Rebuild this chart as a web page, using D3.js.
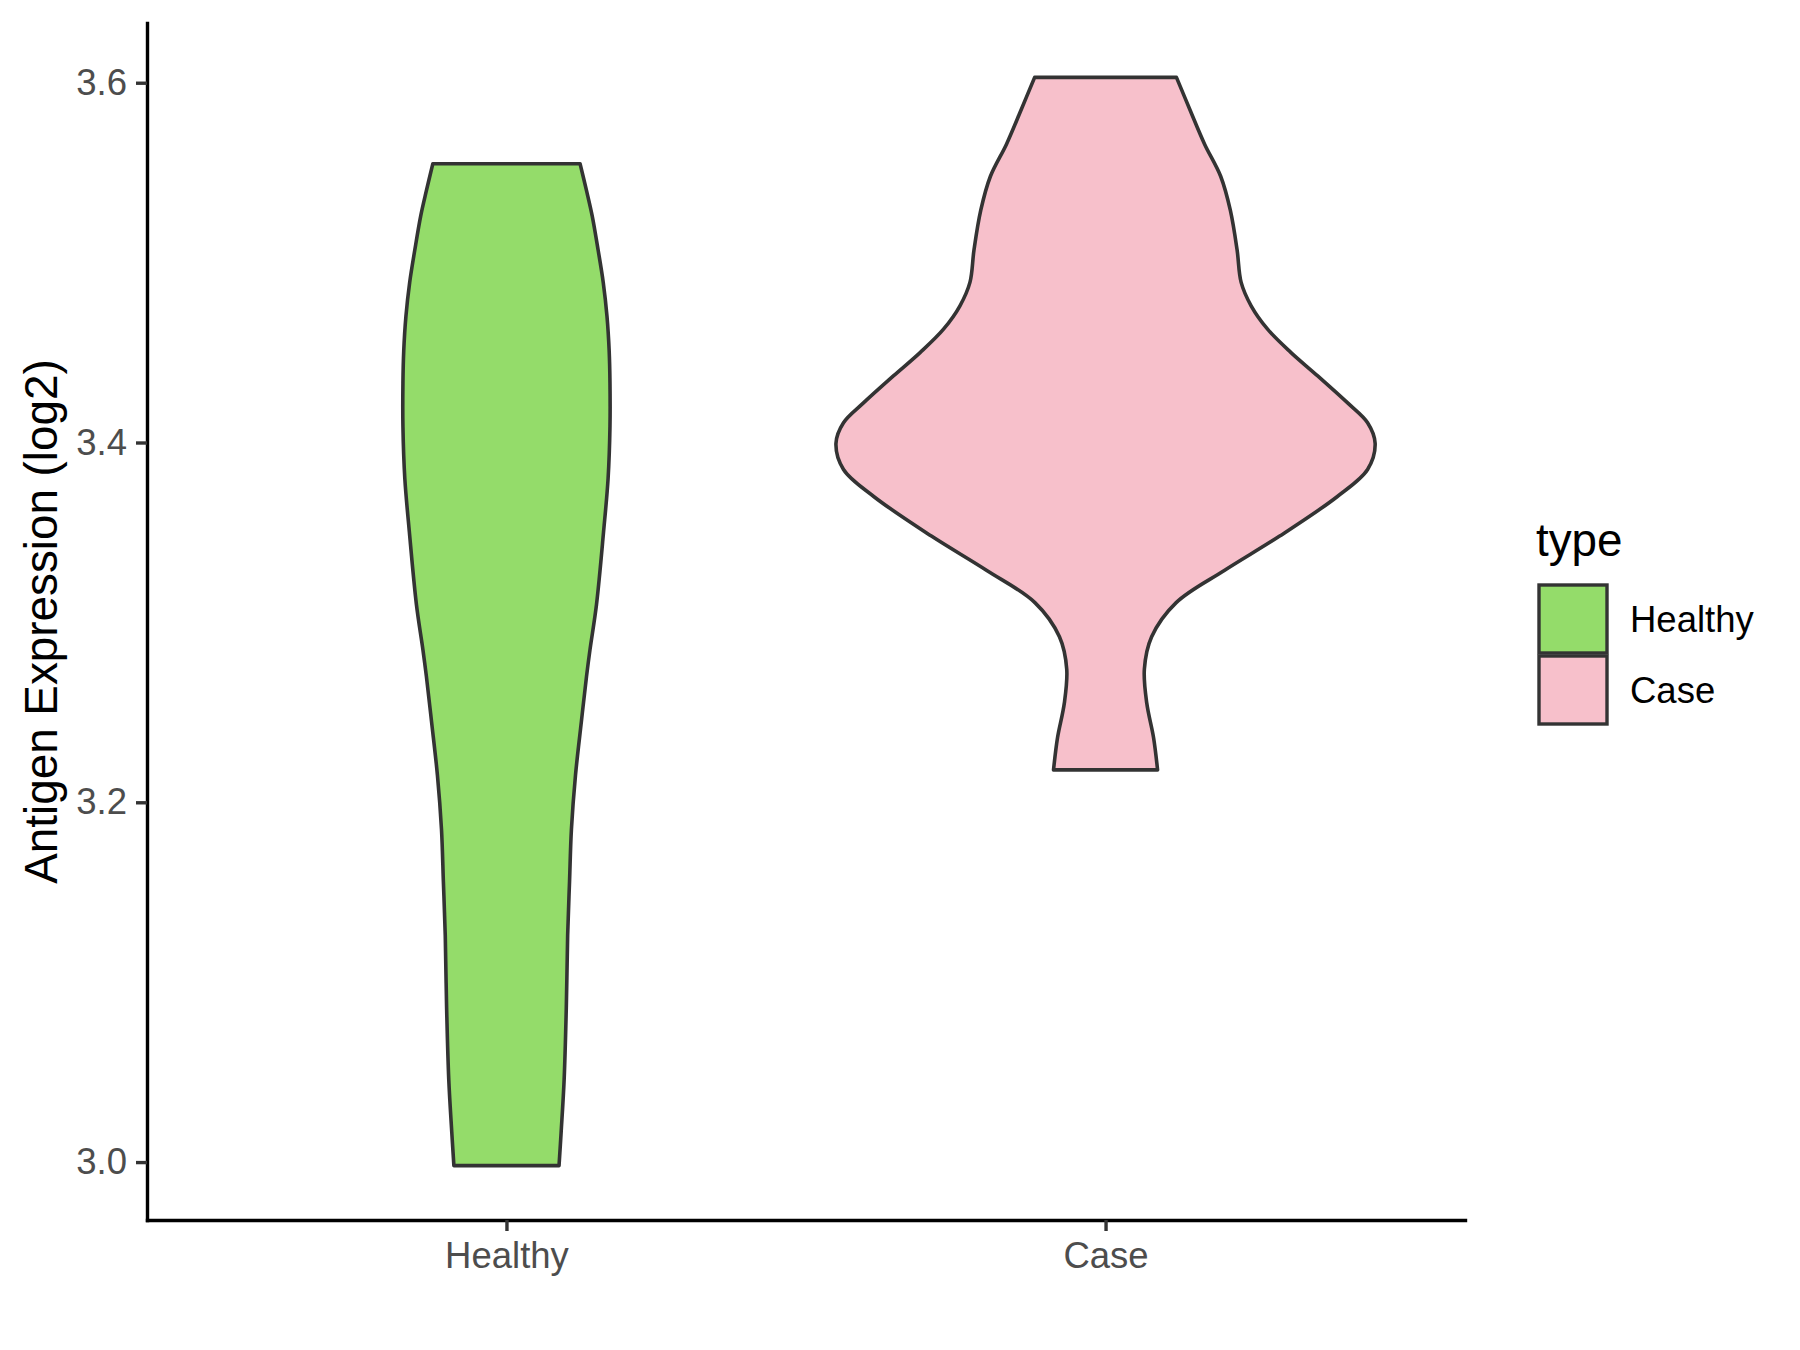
<!DOCTYPE html>
<html>
<head>
<meta charset="utf-8">
<script src="https://cdn.jsdelivr.net/npm/d3@7"></script>
<style>
	body { margin: 0; background: #fff; }
	svg text { font-family: "Liberation Sans", Arial, sans-serif; }
</style>
</head>
<body>
<div id="chartDiv"></div>
<script>
; (function () {

	var width = 1800;
	var height = 1350;
	var margin = { top: 23, right: 335, bottom: 130, left: 147 };

	// data
	var categories = ["Healthy", "Case"];
	var fillColours = ["#94DC6A", "#F7C0CB"];
	var yTicks = [3.0, 3.2, 3.4, 3.6];
	var yDomain = [2.9678, 3.6332];

	var healthyValues = [2.998, 3.017, 3.046, 3.086, 3.126, 3.156, 3.185, 3.215, 3.245, 3.270,
		3.285, 3.310, 3.350, 3.380, 3.409, 3.433, 3.451, 3.470, 3.489, 3.507, 3.526, 3.540, 3.555];
	var healthyDensity = [0.195, 0.203, 0.214, 0.222, 0.227, 0.234, 0.241, 0.256, 0.278, 0.297,
		0.310, 0.334, 0.360, 0.377, 0.384, 0.384, 0.381, 0.373, 0.359, 0.340, 0.318, 0.297, 0.273];

	var caseValues = [3.218, 3.236, 3.255, 3.274, 3.292, 3.311, 3.329, 3.348, 3.370, 3.385, 3.3995,
		3.411, 3.422, 3.437, 3.450, 3.463, 3.476, 3.489, 3.507, 3.529, 3.548, 3.566, 3.585, 3.603];
	var caseDensity = [0.193, 0.178, 0.153, 0.144, 0.171, 0.262, 0.442, 0.646, 0.860, 0.972, 1.0,
		0.972, 0.898, 0.787, 0.688, 0.601, 0.540, 0.503, 0.488, 0.463, 0.427, 0.367, 0.313, 0.263];

	var yAxisLabelHeader = "Antigen Expression (log2)";
	var legendTitle = "type";

	var violins = [
		{ name: categories[0], values: healthyValues, density: healthyDensity, fill: fillColours[0] },
		{ name: categories[1], values: caseValues, density: caseDensity, fill: fillColours[1] }
	];

	var chart = d3.select("#chartDiv").append("svg")
		.attr("width", width)
		.attr("height", height);

	var x = d3.scalePoint()
		.domain(categories)
		.range([margin.left, width - margin.right])
		.padding(0.6);

	var y = d3.scaleLinear()
		.domain(yDomain)
		.range([height - margin.bottom, margin.top]);

	var w = d3.scaleLinear()
		.domain([0, 1])
		.range([0, x.step() * 0.45]);

	// violins
	violins.forEach(function (v) {
		var pts = v.values.map(function (val, i) { return { v: val, d: v.density[i] }; });
		var area = d3.area()
			.y(function (p) { return y(p.v); })
			.x0(function (p) { return x(v.name) - w(p.d); })
			.x1(function (p) { return x(v.name) + w(p.d); })
			.curve(d3.curveCatmullRom);
		chart.append("path")
			.datum(pts)
			.attr("d", area)
			.attr("fill", v.fill)
			.attr("stroke", "#333333")
			.attr("stroke-width", 3.6)
			.attr("stroke-linejoin", "round");
	});

	// axes
	var yAxis = d3.axisLeft(y)
		.tickValues(yTicks)
		.tickFormat(d3.format(".1f"))
		.tickSizeInner(11)
		.tickSizeOuter(0)
		.tickPadding(9);

	var yg = chart.append("g")
		.attr("transform", "translate(" + margin.left + ",0)")
		.call(yAxis);

	var xAxis = d3.axisBottom(x)
		.tickSizeInner(11)
		.tickSizeOuter(0)
		.tickPadding(11);

	var xg = chart.append("g")
		.attr("transform", "translate(0," + (height - margin.bottom) + ")")
		.call(xAxis);

	[yg, xg].forEach(function (g) {
		g.select(".domain").attr("stroke", "#000").attr("stroke-width", 3.4).attr("stroke-linecap", "square");
		g.selectAll(".tick line").attr("stroke", "#333333").attr("stroke-width", 3.4);
		g.selectAll(".tick text")
			.attr("fill", "#4D4D4D")
			.style("font-size", "36.5px");
	});

	chart.append("text")
		.attr("text-anchor", "middle")
		.attr("transform", "translate(" + 57 + ", " + ((margin.top + height - margin.bottom) / 2) + ") rotate(-90)")
		.style("font-size", "45.8px")
		.attr("fill", "#000")
		.text(yAxisLabelHeader);

	// legend
	var legend = chart.append("g")
		.attr("transform", "translate(1536, 0)");

	legend.append("text")
		.attr("x", 0)
		.attr("y", 556)
		.style("font-size", "45.8px")
		.attr("fill", "#000")
		.text(legendTitle);

	var keySize = 68;
	var keyTop = 585;
	violins.forEach(function (v, i) {
		legend.append("rect")
			.attr("x", 3)
			.attr("y", keyTop + i * (keySize + 3))
			.attr("width", keySize)
			.attr("height", keySize)
			.attr("fill", v.fill)
			.attr("stroke", "#333333")
			.attr("stroke-width", 3.4);
		legend.append("text")
			.attr("x", 94)
			.attr("y", keyTop + i * (keySize + 3) + keySize / 2)
			.attr("dy", "0.36em")
			.style("font-size", "36.5px")
			.attr("fill", "#000")
			.text(v.name);
	});

})();
</script>
</body>
</html>
